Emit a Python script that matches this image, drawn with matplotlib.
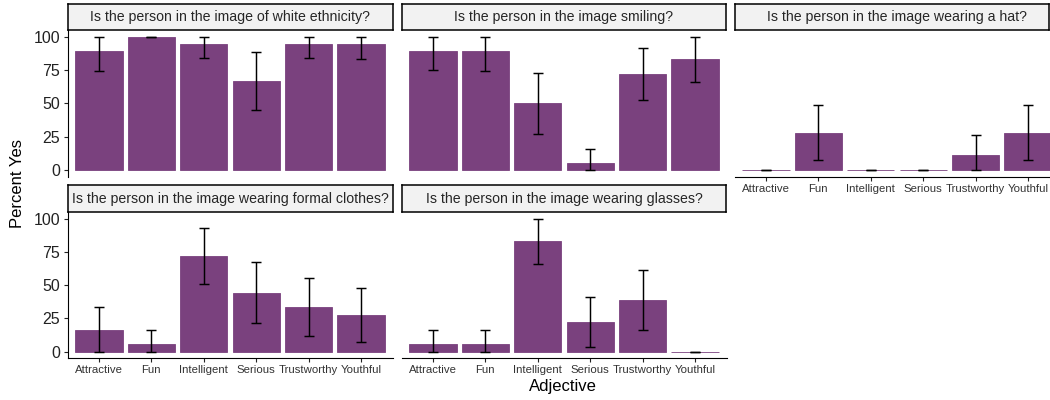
import matplotlib
matplotlib.use("Agg")
import matplotlib.pyplot as plt
import numpy as np

plt.rcParams["font.family"] = ["Liberation Sans", "DejaVu Sans"]

adjectives = ["Attractive", "Fun", "Intelligent", "Serious", "Trustworthy", "Youthful"]

questions = [
    "Is the person in the image of white ethnicity?",
    "Is the person in the image smiling?",
    "Is the person in the image wearing a hat?",
    "Is the person in the image wearing formal clothes?",
    "Is the person in the image wearing glasses?",
]

white_pct = [88.9, 100.0, 94.4, 66.7, 94.4, 94.4]
white_lo = [74.2, 100.0, 83.7, 44.7, 83.7, 83.5]
white_hi = [100.0, 100.0, 100.0, 88.7, 100.0, 100.0]

smile_pct = [88.9, 88.9, 50.0, 5.6, 72.2, 83.3]
smile_lo = [75.0, 74.2, 27.2, 0.0, 52.7, 66.2]
smile_hi = [100.0, 100.0, 73.0, 16.0, 91.5, 100.0]

hat_pct = [0.0, 27.8, 0.0, 0.0, 11.1, 27.8]
hat_lo = [0.0, 7.2, 0.0, 0.0, 0.0, 7.2]
hat_hi = [0.0, 48.5, 0.0, 0.0, 26.0, 48.5]

formal_pct = [16.7, 5.6, 72.2, 44.4, 33.3, 27.8]
formal_lo = [0.0, 0.0, 51.0, 21.5, 11.5, 7.3]
formal_hi = [33.7, 16.0, 93.0, 67.5, 55.2, 48.0]

glasses_pct = [5.6, 5.6, 83.3, 22.2, 38.9, 0.0]
glasses_lo = [0.0, 0.0, 65.7, 3.3, 16.5, 0.0]
glasses_hi = [16.3, 16.3, 100.0, 41.2, 61.5, 0.0]

y_ticks = [0, 25, 50, 75, 100]

series = [
    (white_pct, white_lo, white_hi),
    (smile_pct, smile_lo, smile_hi),
    (hat_pct, hat_lo, hat_hi),
    (formal_pct, formal_lo, formal_hi),
    (glasses_pct, glasses_lo, glasses_hi),
]

BAR = "#7a417e"
W, H = 1050, 400
fig = plt.figure(figsize=(W / 100, H / 100), dpi=100)

col_left = [67.5, 401.5, 734.5]
col_w = 325.0
strip_right_clip = [392.5, 726.0, 1049.0]
rows = [(4.0, 30.0, 176.7), (185.0, 212.0, 358.4)]  # strip top, panel top, panel bottom

# (row, col, has x axis, has y axis)
layout = [(0, 0, False, True), (0, 1, False, False), (0, 2, True, False),
          (1, 0, True, True), (1, 1, True, False)]

x = np.arange(1, len(adjectives) + 1)

for i, (r, c, has_x, has_y) in enumerate(layout):
    st, pt, pb = rows[r]
    left = col_left[c]
    ax = fig.add_axes([left / W, 1 - pb / H, col_w / W, (pb - pt) / H])
    pct, lo, hi = series[i]
    pct = np.array(pct); lo = np.array(lo); hi = np.array(hi)
    ax.bar(x, pct, width=0.9, color=BAR, edgecolor=BAR, linewidth=0.6, zorder=2)
    ax.errorbar(x, pct, yerr=[pct - lo, hi - pct], fmt="none", ecolor="black",
                elinewidth=1.05, capsize=3.8, capthick=1.05, zorder=3)
    ax.set_xlim(0.4, 6.6)
    ax.set_ylim(-5, 105)
    for s in ["top", "right"]:
        ax.spines[s].set_visible(False)
    ax.spines["left"].set_linewidth(0.8)
    ax.spines["bottom"].set_linewidth(0.8)
    if has_x:
        ax.set_xticks(x)
        ax.set_xticklabels(adjectives, fontsize=8.2, color="#333333")
        ax.tick_params(axis="x", length=2.9, width=0.8, pad=2.0, color="#222222")
    else:
        ax.spines["bottom"].set_visible(False)
        ax.set_xticks([])
    if has_y:
        ax.set_yticks(y_ticks)
        ax.set_yticklabels([str(t) for t in y_ticks], fontsize=11.5, color="#222222")
        ax.tick_params(axis="y", length=2.9, width=0.8, pad=2.5, color="#222222")
    else:
        ax.spines["left"].set_visible(False)
        ax.set_yticks([])
    ax.patch.set_alpha(0)

    # strip
    sright = min(left + col_w, strip_right_clip[c])
    sax = fig.add_axes([left / W, 1 - pt / H, (sright - left) / W, (pt - st) / H])
    sax.set_facecolor("#f2f2f2")
    sax.set_xticks([]); sax.set_yticks([])
    for s in sax.spines.values():
        s.set_linewidth(1.1)
        s.set_color("black")
    sax.text(0.5 * col_w / (sright - left), 0.5, questions[i], ha="center", va="center",
             fontsize=10.2, color="#262626", transform=sax.transAxes)

fig.text(563 / W, 1 - 387 / H, "Adjective", ha="center", va="center", fontsize=12)
fig.text(18 / W, 1 - 183 / H, "Percent Yes", ha="center", va="center", rotation=90, fontsize=12)

fig.savefig("out.png", dpi=100)
